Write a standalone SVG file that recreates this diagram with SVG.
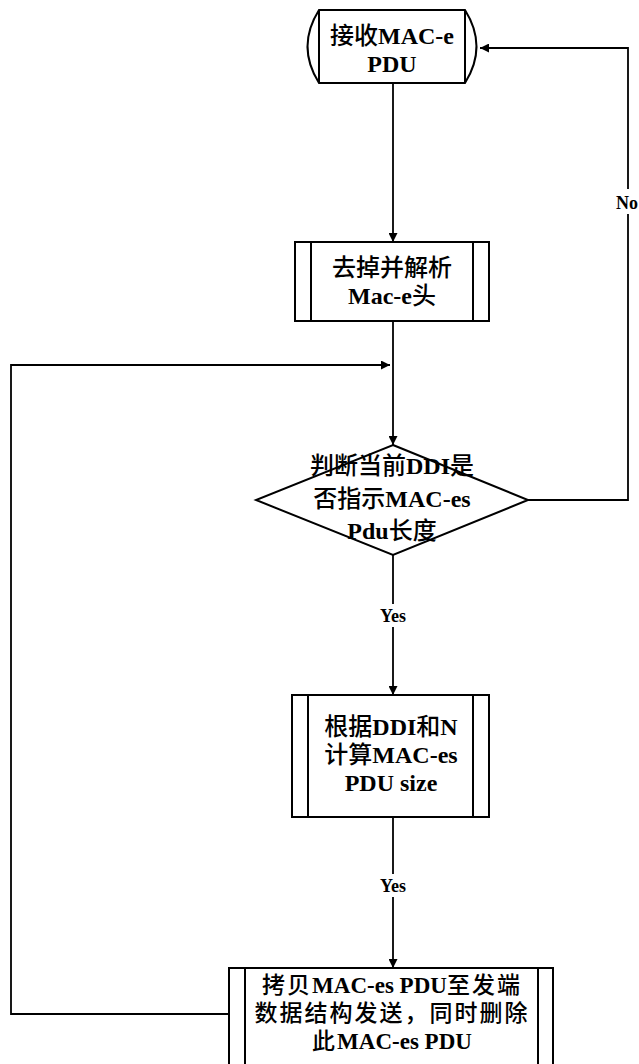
<svg xmlns="http://www.w3.org/2000/svg" width="639" height="1064" viewBox="0 0 639 1064">
<style>
  .shape { fill: #ffffff; stroke: #000000; stroke-width: 2; }
  .inner { fill: none; stroke: #000000; stroke-width: 2; }
  .conn { fill: none; stroke: #000000; stroke-width: 1.8; }
  .t { font-family: "Liberation Serif", "Noto Sans CJK SC", serif; font-weight: bold; font-size: 24px; fill: #000000; text-anchor: middle; }
  .c { font-family: "Noto Sans CJK SC", sans-serif; font-weight: 500; }
  .tb { font-size: 23px; }
  .cs { letter-spacing: 2px; }
  .lbl { font-family: "Liberation Serif", serif; font-weight: bold; font-size: 18px; fill: #000000; text-anchor: middle; }
  .lblbg { fill: #ffffff; stroke: none; }
</style>
<defs>
  <marker id="arr" viewBox="0 0 10 10" refX="10" refY="5" markerWidth="11" markerHeight="9" markerUnits="userSpaceOnUse" orient="auto">
    <path d="M0,0 L10,5 L0,10 Z" fill="#000000"/>
  </marker>
</defs>
<rect x="0" y="0" width="639" height="1064" fill="#ffffff"/>

<g id="connectors">
  <path class="conn" d="M393,83 L393,242" marker-end="url(#arr)"/>
  <path class="conn" d="M393,321 L393,445" marker-end="url(#arr)"/>
  <path class="conn" d="M229,1014 L11,1014 L11,365 L390,365" marker-end="url(#arr)"/>
  <path class="conn" d="M528,500 L628,500 L628,48 L480,48" marker-end="url(#arr)"/>
  <path class="conn" d="M393,555 L393,695" marker-end="url(#arr)"/>
  <path class="conn" d="M393,817 L393,968" marker-end="url(#arr)"/>
  <rect class="lblbg" x="612" y="189" width="27" height="25"/>
  <text class="lbl" x="627" y="209">No</text>
  <rect class="lblbg" x="375" y="604" width="36" height="23"/>
  <text class="lbl" x="393" y="622">Yes</text>
  <rect class="lblbg" x="375" y="874" width="36" height="23"/>
  <text class="lbl" x="393" y="892">Yes</text>
</g>

<g id="node-receive">
  <path class="shape" d="M319,10 L465,10 Q488,46.5 465,83 L319,83 Q296,46.5 319,10 Z"/>
  <line class="inner" x1="319" y1="10" x2="319" y2="83"/>
  <line class="inner" x1="465" y1="10" x2="465" y2="83"/>
  <text class="t" x="392" y="44"><tspan class="c">接收</tspan>MAC-e</text>
  <text class="t" x="392" y="72">PDU</text>
</g>

<g id="node-strip">
  <rect class="shape" x="295" y="242" width="194" height="79"/>
  <line class="inner" x1="311" y1="242" x2="311" y2="321"/>
  <line class="inner" x1="473" y1="242" x2="473" y2="321"/>
  <text class="t" x="392" y="276"><tspan class="c">去掉并解析</tspan></text>
  <text class="t" x="392" y="304">Mac-e<tspan class="c">头</tspan></text>
</g>

<g id="node-decide">
  <path class="shape" d="M393,445 L528,500 L393,555 L256,500 Z"/>
  <text class="t" x="392" y="474"><tspan class="c">判断当前</tspan>DDI<tspan class="c">是</tspan></text>
  <text class="t" x="392" y="507"><tspan class="c">否指示</tspan>MAC-es</text>
  <text class="t" x="392" y="539">Pdu<tspan class="c">长度</tspan></text>
</g>

<g id="node-calc">
  <rect class="shape" x="292" y="695" width="197" height="122"/>
  <line class="inner" x1="308" y1="695" x2="308" y2="817"/>
  <line class="inner" x1="473" y1="695" x2="473" y2="817"/>
  <text class="t" x="391" y="735"><tspan class="c">根据</tspan>DDI<tspan class="c">和</tspan>N</text>
  <text class="t" x="391" y="763"><tspan class="c">计算</tspan>MAC-es</text>
  <text class="t" x="391" y="791">PDU size</text>
</g>

<g id="node-copy">
  <rect class="shape" x="229" y="968" width="324" height="110"/>
  <line class="inner" x1="245" y1="968" x2="245" y2="1078"/>
  <line class="inner" x1="538" y1="968" x2="538" y2="1078"/>
  <text class="t tb" x="392" y="993"><tspan class="c cs">拷贝</tspan>MAC-es PDU<tspan class="c cs">至发端</tspan></text>
  <text class="t tb" x="392" y="1021"><tspan class="c cs">数据结构发送，同时删除</tspan></text>
  <text class="t tb" x="392" y="1049"><tspan class="c cs">此</tspan>MAC-es PDU</text>
</g>
</svg>
